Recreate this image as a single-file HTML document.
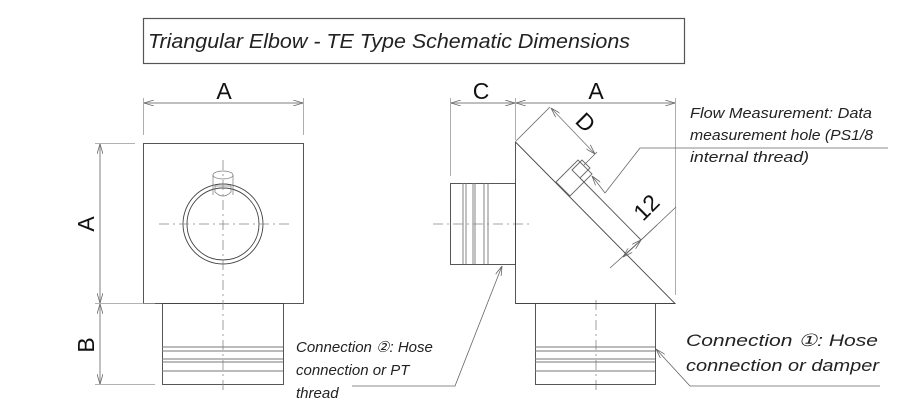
<!DOCTYPE html>
<html><head><meta charset="utf-8"><style>
html,body{margin:0;padding:0;background:#fff;}
svg{display:block;}
.t{font-family:"Liberation Sans",sans-serif;font-style:italic;fill:#222;}
.d{font-family:"Liberation Sans",sans-serif;fill:#111;font-size:23px;}
</style></head><body>
<svg width="901" height="401" viewBox="0 0 901 401" xmlns="http://www.w3.org/2000/svg">
<defs>
<marker id="ar" viewBox="0 0 10 6" refX="10" refY="3" markerWidth="10" markerHeight="6" orient="auto-start-reverse" markerUnits="userSpaceOnUse">
<path d="M0,0 L10,3 L0,6" fill="none" stroke="#666" stroke-width="0.8"/></marker>
</defs>
<rect x="143.5" y="18.5" width="541" height="45" fill="#fff" stroke="#555" stroke-width="1.2"/>
<text class="t" x="148" y="48" font-size="20" textLength="482" lengthAdjust="spacingAndGlyphs">Triangular Elbow - TE Type Schematic Dimensions</text>

<g stroke="#444" stroke-width="0.9" fill="none">
<rect x="143.5" y="143.5" width="160" height="160"/>
<rect x="162.5" y="303.5" width="121" height="81"/>
<g stroke="#777"><line x1="162" y1="347" x2="283" y2="347"/><line x1="162" y1="351" x2="283" y2="351"/><line x1="162" y1="359" x2="283" y2="359"/><line x1="162" y1="362" x2="283" y2="362"/><line x1="162" y1="371" x2="283" y2="371"/></g>
<circle cx="223" cy="224" r="40"/><circle cx="223" cy="224" r="36"/>
<g stroke="#777" stroke-width="0.7"><ellipse cx="223" cy="175" rx="10" ry="4"/><line x1="213" y1="175" x2="213" y2="195"/><line x1="233" y1="175" x2="233" y2="195"/><line x1="215" y1="186" x2="231" y2="186"/><path d="M215,186 L215,192 Q223,200 231,192 L231,186"/></g>
</g>
<g stroke="#888" stroke-width="0.8" stroke-dasharray="10,4,2,4" fill="none">
<line x1="159" y1="224" x2="290" y2="224"/>
<line x1="223" y1="160" x2="223" y2="392"/>
<line x1="433" y1="224" x2="530" y2="224"/>
<line x1="596" y1="300" x2="596" y2="392"/>
</g>
<g stroke="#999" stroke-width="0.8" fill="none">
<line x1="143.5" y1="98" x2="143.5" y2="135"/><line x1="303.5" y1="98" x2="303.5" y2="135"/>
<line x1="95" y1="143.5" x2="135" y2="143.5"/><line x1="95" y1="303.5" x2="155" y2="303.5"/><line x1="95" y1="384.5" x2="155" y2="384.5"/>
<line x1="450.5" y1="98" x2="450.5" y2="176"/><line x1="515.5" y1="98" x2="515.5" y2="140"/>
<line x1="675.5" y1="98" x2="675.5" y2="295"/>
</g>
<g stroke="#aaa" stroke-width="1.5" fill="none">
<line x1="144" y1="103" x2="303" y2="103" marker-start="url(#ar)" marker-end="url(#ar)"/>
<line x1="100" y1="144" x2="100" y2="303" marker-start="url(#ar)" marker-end="url(#ar)"/>
<line x1="100" y1="304" x2="100" y2="384" marker-start="url(#ar)" marker-end="url(#ar)"/>
<line x1="451" y1="103" x2="515" y2="103" marker-start="url(#ar)" marker-end="url(#ar)"/>
<line x1="516" y1="103" x2="675" y2="103" marker-start="url(#ar)" marker-end="url(#ar)"/>
</g>
<text class="d" x="224" y="99" text-anchor="middle">A</text>
<text class="d" x="481" y="99" text-anchor="middle">C</text>
<text class="d" x="596" y="99" text-anchor="middle">A</text>
<text class="d" transform="translate(94,224) rotate(-90)" text-anchor="middle">A</text>
<text class="d" transform="translate(94,345) rotate(-90)" text-anchor="middle">B</text>

<g stroke="#444" stroke-width="0.9" fill="none">
<path d="M515.5,142 L515.5,303.5 L675,303.5 Z"/>
<rect x="450.5" y="183.5" width="65" height="81"/>
<rect x="535.5" y="303.5" width="120" height="81"/>
<g stroke="#777"><line x1="463" y1="183" x2="463" y2="264"/><line x1="466" y1="183" x2="466" y2="264"/><line x1="473" y1="183" x2="473" y2="264"/><line x1="475" y1="183" x2="475" y2="264"/><line x1="484" y1="183" x2="484" y2="264"/><line x1="488" y1="183" x2="488" y2="264"/>
<line x1="535" y1="347" x2="655" y2="347"/><line x1="535" y1="351" x2="655" y2="351"/><line x1="535" y1="359" x2="655" y2="359"/><line x1="535" y1="362" x2="655" y2="362"/><line x1="535" y1="371" x2="655" y2="371"/></g>
<path d="M556,182 L578,160 L592,174 L570,196 Z" stroke="#666"/>
<path d="M572,170 L582,160 L590,168 L580,178 Z" stroke="#666"/>
<line x1="580" y1="178" x2="641" y2="240" stroke="#555"/>
</g>
<g stroke="#666" stroke-width="0.8" fill="none">
<line x1="516" y1="141" x2="550" y2="107"/>
<line x1="584" y1="165" x2="597" y2="152"/>
<line x1="551" y1="108" x2="595" y2="154" stroke="#777" marker-start="url(#ar)" marker-end="url(#ar)"/>
<line x1="641" y1="240" x2="676" y2="207"/>
<line x1="610" y1="268" x2="641" y2="240" marker-end="url(#ar)"/>
<line x1="657" y1="225" x2="623" y2="257" marker-end="url(#ar)"/>
<polyline points="592,176 605,193 640,148 888,148" marker-start="url(#ar)"/>
<polyline points="502,266 455,386 352,386" marker-start="url(#ar)"/>
<polyline points="656,349 690,386 880,386" marker-start="url(#ar)"/>
</g>
<text class="d" transform="translate(580,128) rotate(45)" text-anchor="middle">D</text>
<text class="d" transform="translate(652,213) rotate(-45)" text-anchor="middle">12</text>

<text class="t" x="690" y="118" font-size="14.5" textLength="182" lengthAdjust="spacingAndGlyphs">Flow Measurement: Data</text>
<text class="t" x="690" y="140" font-size="14.5" textLength="183" lengthAdjust="spacingAndGlyphs">measurement hole (PS1/8</text>
<text class="t" x="690" y="162" font-size="14.5" textLength="119" lengthAdjust="spacingAndGlyphs">internal thread)</text>
<text class="t" x="296" y="352" font-size="15">Connection ②: Hose</text>
<text class="t" x="296" y="375" font-size="15">connection or PT</text>
<text class="t" x="296" y="398" font-size="15">thread</text>
<text class="t" x="686" y="346" font-size="17" textLength="192" lengthAdjust="spacingAndGlyphs">Connection ①: Hose</text>
<text class="t" x="686" y="371" font-size="17" textLength="193" lengthAdjust="spacingAndGlyphs">connection or damper</text>
</svg>
</body></html>
